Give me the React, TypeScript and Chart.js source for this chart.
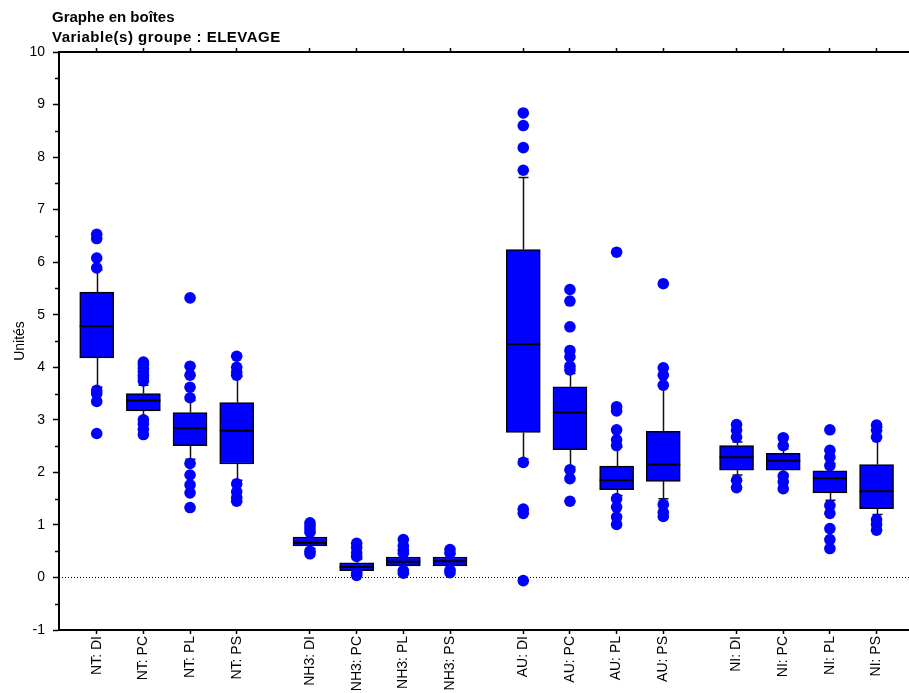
import React, { useEffect, useRef } from 'react';
import { Chart, registerables } from 'chart.js';

Chart.register(...registerables);

const TITLE_LINES = ['Graphe en boîtes', 'Variable(s) groupe : ELEVAGE'];
const Y_TITLE = 'Unités';

const CATEGORIES = [
  'NT: DI', 'NT: PC', 'NT: PL', 'NT: PS',
  'NH3: DI', 'NH3: PC', 'NH3: PL', 'NH3: PS',
  'AU: DI', 'AU: PC', 'AU: PL', 'AU: PS',
  'NI: DI', 'NI: PC', 'NI: PL', 'NI: PS',
];
const GROUPS = [0, 0, 0, 0, 1, 1, 1, 1, 2, 2, 2, 2, 3, 3, 3, 3];

const Q1 = [4.18, 3.17, 2.51, 2.16, 0.60, 0.13, 0.22, 0.22, 2.76, 2.43, 1.67, 1.83, 2.04, 2.04, 1.61, 1.31];
const MEDIAN = [4.78, 3.37, 2.84, 2.79, 0.66, 0.20, 0.30, 0.31, 4.44, 3.14, 1.85, 2.15, 2.29, 2.22, 1.89, 1.64];
const Q3 = [5.43, 3.50, 3.14, 3.33, 0.77, 0.28, 0.39, 0.39, 6.24, 3.63, 2.12, 2.78, 2.51, 2.36, 2.03, 2.15];
const WHISKER_LOW = [3.62, 3.05, 2.25, 1.85, 0.55, 0.10, 0.15, 0.15, 2.26, 2.10, 1.56, 1.50, 1.95, 1.97, 1.47, 1.20];
const WHISKER_HIGH = [5.85, 3.66, 3.37, 3.82, 0.85, 0.35, 0.45, 0.45, 7.61, 3.88, 2.48, 3.64, 2.58, 2.45, 2.17, 2.86];

const OUTLIERS = [
  [6.53, 6.45, 6.08, 5.89, 3.56, 3.50, 3.35, 2.74],
  [4.10, 4.05, 3.98, 3.92, 3.85, 3.80, 3.74, 3.00, 2.92, 2.82, 2.72],
  [5.32, 4.02, 3.85, 3.62, 3.42, 2.17, 1.95, 1.76, 1.61, 1.33],
  [4.21, 4.00, 3.91, 3.85, 1.78, 1.63, 1.52, 1.45],
  [1.04, 0.98, 0.92, 0.86, 0.50, 0.45],
  [0.65, 0.57, 0.47, 0.40, 0.08, 0.04],
  [0.72, 0.60, 0.52, 0.46, 0.13, 0.08],
  [0.53, 0.46, 0.14, 0.09],
  [8.84, 8.60, 8.18, 7.75, 2.19, 1.30, 1.22, -0.06],
  [5.48, 5.26, 4.77, 4.32, 4.20, 4.02, 3.95, 2.05, 1.88, 1.45],
  [6.19, 3.25, 3.17, 2.81, 2.62, 2.51, 1.50, 1.34, 1.15, 1.01],
  [5.59, 3.99, 3.85, 3.66, 1.39, 1.24, 1.16],
  [2.91, 2.80, 2.67, 1.85, 1.71],
  [2.66, 2.51, 1.93, 1.82, 1.69],
  [2.81, 2.42, 2.29, 2.13, 1.37, 1.22, 0.93, 0.72, 0.55],
  [2.90, 2.80, 2.67, 1.10, 1.01, 0.90],
];

const Y_MIN = -1;
const Y_MAX = 10;
const GROUP_GAP = 0.57;
const X_MIN = -0.808;
const X_MAX = 17.855;

const FONT = "'Liberation Sans', Arial, Helvetica, sans-serif";
const BLUE = '#0000FF';
const BOX_WIDTH = 34;

const POSITIONS = CATEGORIES.map((_, i) => i + GROUPS[i] * GROUP_GAP);

const setTicks = (scale: any) => {
  scale.ticks = POSITIONS.map((v) => ({ value: v }));
};

export default function App() {
  const ref = useRef<HTMLCanvasElement>(null);

  useEffect(() => {
    if (!ref.current) return;

    const boxPlugin = {
      id: 'boxExtras',
      beforeDatasetsDraw(chart: any) {
        const { ctx, chartArea } = chart;
        const x = chart.scales.x;
        const y = chart.scales.y;
        ctx.save();
        ctx.strokeStyle = '#000';
        ctx.lineWidth = 1;
        ctx.setLineDash([1, 2]);
        const y0 = Math.round(y.getPixelForValue(0)) + 0.5;
        ctx.beginPath();
        ctx.moveTo(chartArea.left, y0);
        ctx.lineTo(chartArea.right, y0);
        ctx.stroke();
        ctx.setLineDash([]);
        ctx.lineWidth = 1.5;
        ctx.strokeStyle = '#111';
        POSITIONS.forEach((p, i) => {
          const px = Math.round(x.getPixelForValue(p)) + 0.5;
          const yq1 = y.getPixelForValue(Q1[i]);
          const yq3 = y.getPixelForValue(Q3[i]);
          const ylo = y.getPixelForValue(WHISKER_LOW[i]);
          const yhi = y.getPixelForValue(WHISKER_HIGH[i]);
          ctx.beginPath();
          ctx.moveTo(px, yq3);
          ctx.lineTo(px, yhi);
          ctx.moveTo(px - 5, yhi);
          ctx.lineTo(px + 5, yhi);
          ctx.moveTo(px, yq1);
          ctx.lineTo(px, ylo);
          ctx.moveTo(px - 5, ylo);
          ctx.lineTo(px + 5, ylo);
          ctx.stroke();
        });
        ctx.restore();
      },
      afterDatasetDraw(chart: any, args: any) {
        if (args.index !== 0) return;
        const { ctx } = chart;
        const x = chart.scales.x;
        const y = chart.scales.y;
        ctx.save();
        ctx.strokeStyle = '#000';
        ctx.lineWidth = 2;
        POSITIONS.forEach((p, i) => {
          const px = x.getPixelForValue(p);
          const ym = y.getPixelForValue(MEDIAN[i]);
          ctx.beginPath();
          ctx.moveTo(px - BOX_WIDTH / 2, ym);
          ctx.lineTo(px + BOX_WIDTH / 2, ym);
          ctx.stroke();
        });
        ctx.restore();
      },
      afterDraw(chart: any) {
        const { ctx, chartArea } = chart;
        const y = chart.scales.y;
        ctx.save();
        ctx.strokeStyle = '#000';
        ctx.lineWidth = 1.5;
        for (let v = Y_MIN + 0.5; v < Y_MAX; v += 1) {
          const py = Math.round(y.getPixelForValue(v)) + 0.5;
          ctx.beginPath();
          ctx.moveTo(chartArea.left - 4, py);
          ctx.lineTo(chartArea.left, py);
          ctx.stroke();
        }
        ctx.fillStyle = '#000';
        ctx.textAlign = 'left';
        ctx.textBaseline = 'alphabetic';
        ctx.font = `bold 15px ${FONT}`;
        ctx.fillText(TITLE_LINES[0], 52, 22);
        try { (ctx as any).letterSpacing = '0.5px'; } catch (e) {}
        ctx.fillText(TITLE_LINES[1], 52, 42);
        try { (ctx as any).letterSpacing = '0px'; } catch (e) {}
        ctx.restore();
      },
    };

    const noSidePad = (h: number) => (s: any) => {
      s.height = h;
      s.paddingLeft = 0;
      s.paddingRight = 0;
    };

    const chart = new Chart(ref.current, {
      type: 'bar',
      data: {
        datasets: [
          {
            type: 'bar',
            data: POSITIONS.map((p, i) => ({ x: p, y: [Q1[i], Q3[i]] })) as any,
            backgroundColor: BLUE,
            borderColor: '#000',
            borderWidth: 1.5,
            borderSkipped: false,
            barThickness: BOX_WIDTH,
            order: 1,
          } as any,
          {
            type: 'scatter',
            data: OUTLIERS.flatMap((vals, i) => vals.map((v) => ({ x: POSITIONS[i], y: v }))),
            backgroundColor: BLUE,
            borderWidth: 0,
            pointRadius: 5.8,
            pointHoverRadius: 5.8,
            showLine: false,
            order: 0,
          } as any,
        ],
      },
      options: {
        responsive: false,
        animation: false,
        events: [],
        layout: { autoPadding: false, padding: { top: 48, left: 0, right: 0, bottom: 0 } },
        plugins: {
          legend: { display: false },
          tooltip: { enabled: false },
        },
        scales: {
          x: {
            type: 'linear',
            position: 'bottom',
            offset: false,
            min: X_MIN,
            max: X_MAX,
            afterBuildTicks: setTicks,
            afterFit: noSidePad(63),
            ticks: {
              autoSkip: false,
              minRotation: 90,
              maxRotation: 90,
              padding: 2,
              color: '#000',
              font: { family: FONT, size: 14 },
              callback: (value: any) => {
                const i = POSITIONS.findIndex((p) => Math.abs(p - Number(value)) < 1e-6);
                return i >= 0 ? CATEGORIES[i] : '';
              },
            },
            grid: { offset: false, drawOnChartArea: false, tickLength: 4, tickColor: '#000', tickWidth: 1.5 },
            border: { display: true, color: '#000', width: 2 },
          },
          xTop: {
            type: 'linear',
            position: 'top',
            offset: false,
            min: X_MIN,
            max: X_MAX,
            afterBuildTicks: setTicks,
            afterFit: noSidePad(4),
            ticks: { display: false },
            grid: { offset: false, drawOnChartArea: false, tickLength: 4, tickColor: '#000', tickWidth: 1.5 },
            border: { display: true, color: '#000', width: 2 },
          },
          y: {
            type: 'linear',
            min: Y_MIN,
            max: Y_MAX,
            afterFit: (s: any) => { s.width = 59; s.paddingTop = 0; s.paddingBottom = 0; },
            ticks: {
              stepSize: 0.5,
              padding: 8,
              color: '#000',
              font: { family: FONT, size: 14 },
              callback: (value: any) => (Number.isInteger(Number(value)) ? String(value) : ''),
            },
            grid: {
              drawOnChartArea: false,
              tickLength: 6,
              tickWidth: 1.5,
              tickColor: (c: any) => (Number.isInteger(c.tick?.value) ? '#000' : 'rgba(0,0,0,0)'),
            },
            border: { display: true, color: '#000', width: 2 },
            title: {
              display: true,
              text: Y_TITLE,
              color: '#000',
              font: { family: FONT, size: 14 },
              padding: { top: 12, bottom: 0 },
            },
          },
        },
      } as any,
      plugins: [boxPlugin],
    });

    return () => chart.destroy();
  }, []);

  return (
    <div style={{ position: 'fixed', left: 0, top: 0, width: 909, height: 693, overflow: 'hidden', background: '#fff' }}>
      <canvas ref={ref} width={930} height={693} style={{ display: 'block', width: 930, height: 693 }} />
    </div>
  );
}
